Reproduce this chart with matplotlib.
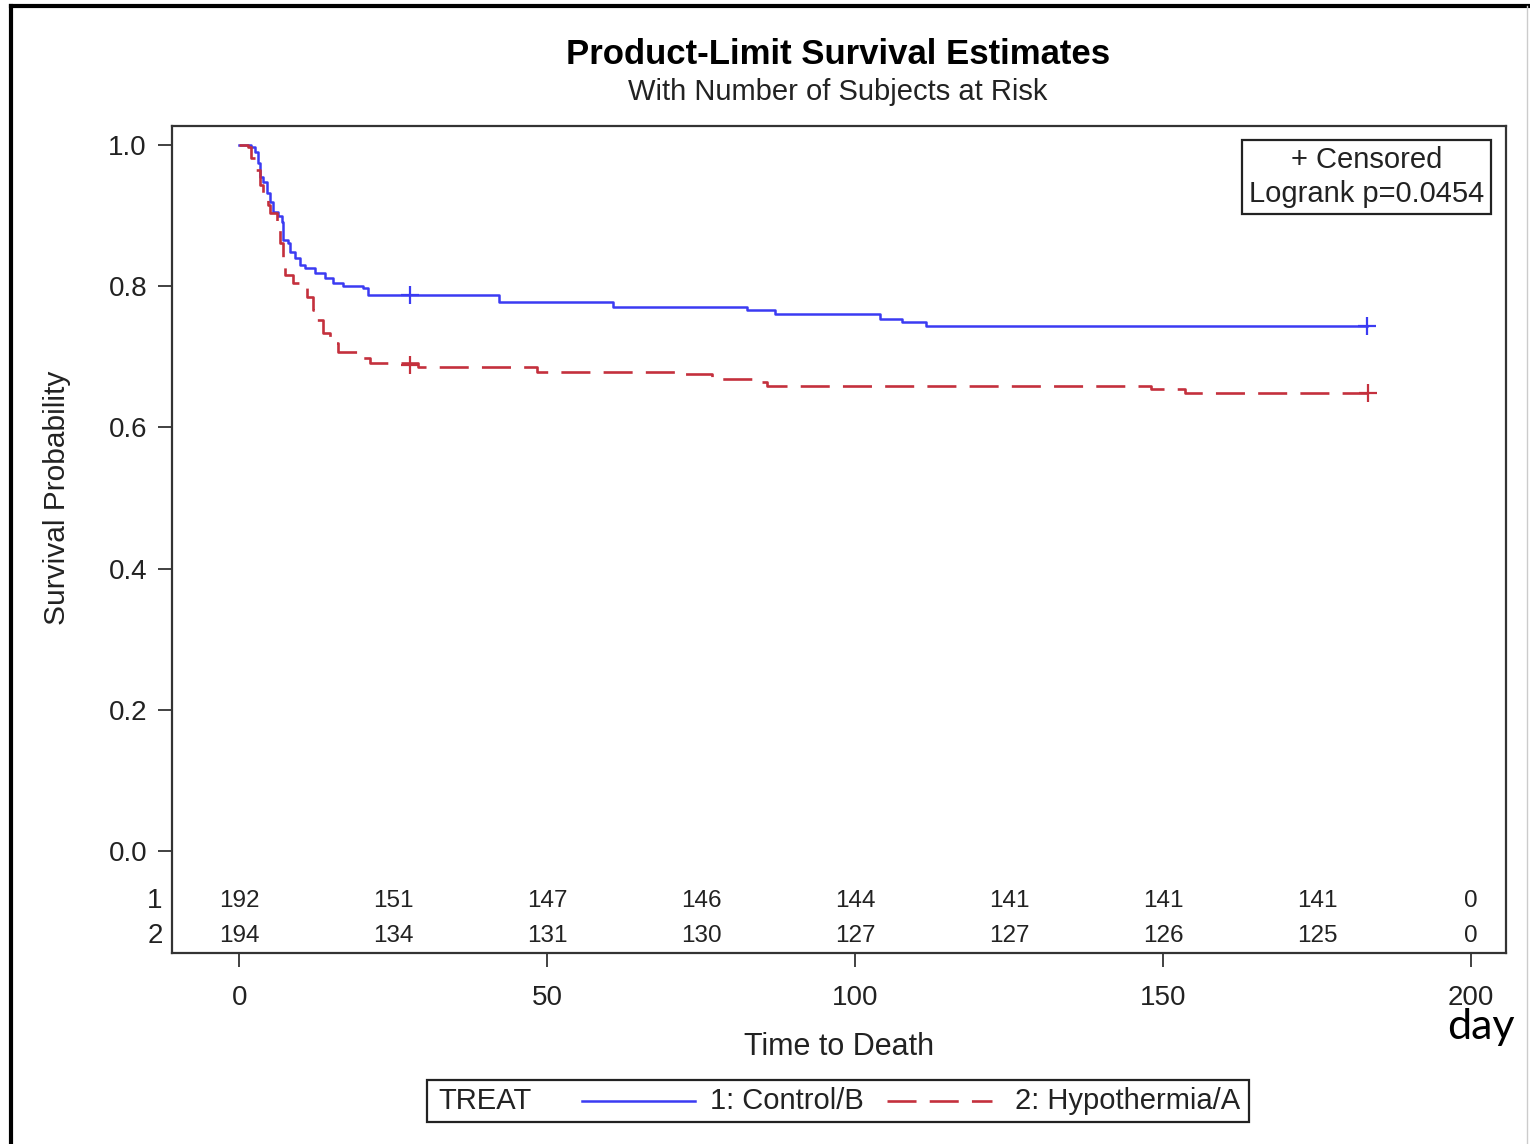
import matplotlib
matplotlib.use("Agg")
import matplotlib.pyplot as plt
from matplotlib.lines import Line2D
from matplotlib.patches import Rectangle

plt.rcParams['font.family'] = ['Liberation Sans', 'DejaVu Sans']

# step survival curves (time in days, survival prob)
ctrl_t = [0, 2, 2.6, 3.1, 3.4, 3.9, 4.5, 5, 5.5, 6.3, 7, 7.1, 8, 8.3, 9.1, 9.9,
          10.7, 12.3, 14, 15.3, 16.9, 20.1, 21, 42.2, 60.7, 82.4, 87, 104,
          107.6, 111.5, 183.1]
ctrl_s = [1.0, 0.997, 0.99, 0.975, 0.955, 0.948, 0.932, 0.919, 0.905, 0.90,
          0.891, 0.865, 0.861, 0.848, 0.84, 0.83, 0.826, 0.819, 0.812, 0.805,
          0.80, 0.797, 0.787, 0.777, 0.770, 0.766, 0.761, 0.754, 0.749, 0.743,
          0.743]
hypo_t = [0, 1.5, 2, 2.8, 3.4, 3.9, 4.7, 5, 6.1, 6.7, 7.1, 7.5, 8.8, 10.2, 11,
          12, 12.7, 13.6, 14.8, 16.1, 19.3, 21.3, 29, 48.4, 71.6, 76.8, 83.3,
          85.7, 148, 153.6, 183.3]
hypo_s = [1.0, 0.997, 0.981, 0.965, 0.943, 0.925, 0.915, 0.904, 0.884, 0.861,
          0.841, 0.816, 0.805, 0.797, 0.785, 0.766, 0.752, 0.734, 0.72, 0.707,
          0.698, 0.691, 0.686, 0.678, 0.676, 0.669, 0.665, 0.659, 0.654, 0.649,
          0.649]

# censored observations
ctrl_cens_t = [27.8, 183.1]
ctrl_cens_s = [0.787, 0.743]
hypo_cens_t = [27.8, 183.3]
hypo_cens_s = [0.688, 0.649]

# number at risk table
risk_times = [0, 25, 50, 75, 100, 125, 150, 175, 200]
risk_ctrl = [192, 151, 147, 146, 144, 141, 141, 141, 0]
risk_hypo = [194, 134, 131, 130, 127, 127, 126, 125, 0]

BLUE = '#3b3bf2'
RED = '#c4303d'
TXT = '#222222'
RED_DASH = (11, 5)

W, H = 1530, 1144
fig = plt.figure(figsize=(W/100, H/100), dpi=100)
ax = fig.add_axes([172/W, 1-953/H, (1506-172)/W, (953-126)/H])

ax.step(ctrl_t, ctrl_s, where='post', color=BLUE, lw=1.8)
ax.step(hypo_t, hypo_s, where='post', color=RED, lw=1.9, dashes=RED_DASH)
ax.plot(ctrl_cens_t, ctrl_cens_s, ls='none', marker='+', ms=13, mew=1.6, color=BLUE)
ax.plot(hypo_cens_t, hypo_cens_s, ls='none', marker='+', ms=13, mew=1.6, color=RED)

ax.set_xlim(-10.9, 205.7)
ax.set_ylim(-0.1445, 1.027)
ax.set_xticks([0, 50, 100, 150, 200])
ax.set_yticks([0.0, 0.2, 0.4, 0.6, 0.8, 1.0])
ax.set_yticklabels(['0.0', '0.2', '0.4', '0.6', '0.8', '1.0'])
ax.tick_params(length=10, width=1.3, color='#333333', labelsize=20,
               labelcolor=TXT)
ax.tick_params(axis='x', pad=13)
ax.tick_params(axis='y', pad=8)
for sp in ax.spines.values():
    sp.set_linewidth(1.6)
    sp.set_color('#333333')

ax.set_xlabel('Time to Death', fontsize=22, color=TXT, labelpad=15)
ax.set_ylabel('Survival Probability', fontsize=21.5, color=TXT)
ax.yaxis.set_label_coords(-0.076, 1-(498-126)/827)

# at-risk table inside the axes
for t, n1, n2 in zip(risk_times, risk_ctrl, risk_hypo):
    ax.text(t, -0.071, str(n1), ha='center', va='center', fontsize=17.5, color=TXT)
    ax.text(t, -0.121, str(n2), ha='center', va='center', fontsize=17.5, color=TXT)
ytr = ax.get_yaxis_transform()
ax.text(-0.007, -0.071, '1', transform=ytr, ha='right', va='center', fontsize=20, color=TXT)
ax.text(-0.007, -0.121, '2', transform=ytr, ha='right', va='center', fontsize=20, color=TXT)

# inset box
ax.text(0.8954, 0.9383, '+ Censored\nLogrank p=0.0454', transform=ax.transAxes,
        ha='center', va='center', fontsize=21, color=TXT, linespacing=1.25,
        bbox=dict(boxstyle='square,pad=0.22', fc='white', ec='#222222', lw=1.6))

fig.text(838/W, 1-54/H, 'Product-Limit Survival Estimates', ha='center',
         va='center', fontsize=25, fontweight='bold', color='black')
fig.text(838/W, 1-92/H, 'With Number of Subjects at Risk', ha='center',
         va='center', fontsize=21, color=TXT)
fig.text(1481/W, 1-1027/H, 'day', ha='center', va='center', fontsize=31,
         color='black', family=['Lato', 'DejaVu Sans'])

# bottom legend, laid out like the SAS one
fig.add_artist(Rectangle((427/W, 1-1122/H), (1249-427)/W, 42/H, fill=False,
                         ec='#222222', lw=1.6, transform=fig.transFigure))
ly = 1-1101/H
fig.text(438/W, ly, 'TREAT', ha='left', va='center', fontsize=21, color=TXT)
fig.add_artist(Line2D([582/W, 695/W], [ly, ly], color=BLUE, lw=1.8,
                      transform=fig.transFigure))
fig.text(710/W, ly, '1: Control/B', ha='left', va='center', fontsize=21, color=TXT)
fig.add_artist(Line2D([887/W, 992/W], [ly, ly], color=RED, lw=1.9,
                      dashes=RED_DASH, transform=fig.transFigure))
fig.text(1015/W, ly, '2: Hypothermia/A', ha='left', va='center', fontsize=21, color=TXT)

# outer frame of the screenshot
fig.add_artist(Line2D([11/W, 11/W], [0, 1-6/H], color='black', lw=3,
                      transform=fig.transFigure))
fig.add_artist(Line2D([11/W, 1], [1-6/H, 1-6/H], color='black', lw=3,
                      transform=fig.transFigure))
fig.add_artist(Line2D([1527/W, 1527/W], [0, 1-6/H], color='#cccccc', lw=1,
                      transform=fig.transFigure))

fig.savefig('out.png', dpi=100)
